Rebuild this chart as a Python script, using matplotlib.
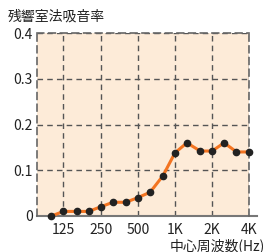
import matplotlib
matplotlib.use('Agg')
import matplotlib.pyplot as plt
import numpy as np

plt.rcParams['font.family'] = ['Noto Sans CJK JP', 'DejaVu Sans']

# 1/3 octave centre frequencies and absorption coefficients
freqs = [100, 125, 160, 200, 250, 315, 400, 500, 630, 800,
         1000, 1250, 1600, 2000, 2500, 3150, 4000]
alpha = [0.0, 0.01, 0.01, 0.01, 0.02, 0.03, 0.03, 0.04, 0.052, 0.088,
         0.138, 0.16, 0.142, 0.142, 0.16, 0.14, 0.14]
xticks = [125, 250, 500, 1000, 2000, 4000]
xticklabels = ['125', '250', '500', '1K', '2K', '4K']
yticks = [0, 0.1, 0.2, 0.3, 0.4]
yticklabels = ['0', '0.1', '0.2', '0.3', '0.4']

fig = plt.figure(figsize=(2.65, 2.52), dpi=100)
ax = fig.add_axes([0.1396, 0.1429, 0.8012, 0.7261])
ax.set_facecolor('#fdebd8')

ax.set_xscale('log', base=2)
ax.set_xlim(125 * 2 ** -0.71, 4000)
ax.set_ylim(0, 0.4)

ax.plot(freqs, alpha, color='#f37421', lw=2.2, zorder=3, clip_on=False)
ax.plot(freqs, alpha, 'o', color='#222222', ms=4.5, zorder=4, clip_on=False)

ax.set_xticks(xticks)
ax.set_xticklabels(xticklabels)
ax.xaxis.set_minor_locator(matplotlib.ticker.NullLocator())
ax.set_yticks(yticks)
ax.set_yticklabels(yticklabels)
ax.tick_params(length=0, labelsize=10, colors='#222222', pad=3)
ax.tick_params(axis='x', pad=5)

ax.grid(True, color='#555555', ls=(0, (4, 3)), lw=1)
for s in ['left', 'top', 'right']:
    ax.spines[s].set_linestyle((0, (4, 3)))
    ax.spines[s].set_color('#666666')
    ax.spines[s].set_linewidth(1.2)
ax.spines['bottom'].set_visible(False)
ax.plot([0, 1.035], [0, 0], transform=ax.transAxes, color='#777777',
        lw=1.5, clip_on=False, zorder=2)

fig.text(8 / 265, 1 - 17 / 252, '残響室法吸音率', fontsize=10, color='#222222',
         va='center', ha='left')
fig.text(1.0, 1 - 246 / 252, '中心周波数(Hz)', fontsize=10, color='#222222',
         va='center', ha='right')

fig.savefig('out.png', dpi=100)
